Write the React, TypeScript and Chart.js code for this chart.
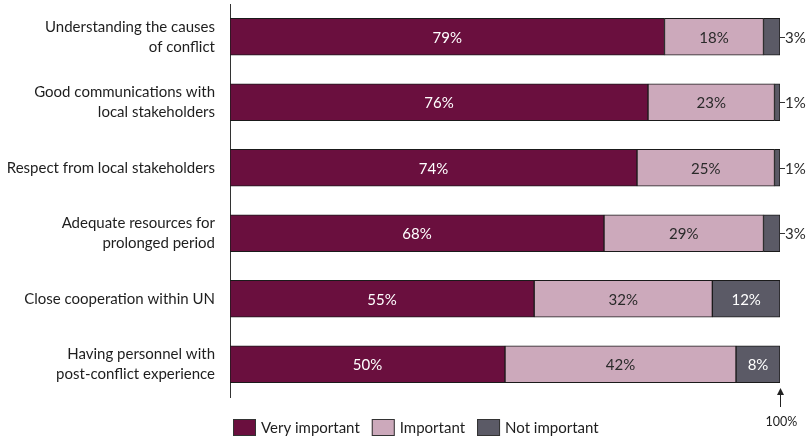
import React, { useEffect, useRef } from "react";
import { Chart, registerables } from "chart.js";

Chart.register(...registerables);

const categories: string[][] = [
  ["Understanding the causes", "of conflict"],
  ["Good communications with", "local stakeholders"],
  ["Respect from local stakeholders"],
  ["Adequate resources for", "prolonged period"],
  ["Close cooperation within UN"],
  ["Having personnel with", "post-conflict experience"],
];
const veryImportant = [79, 76, 74, 68, 55.3, 50];
const important = [18, 23, 25, 29, 32.4, 42];
const notImportant = [3, 1, 1, 3, 12.3, 8];

const seriesNames = ["Very important", "Important", "Not important"];
const seriesColors = ["#6A0F3E", "#CCA9BB", "#5B5A66"];
const labelColors = ["#ffffff", "#2a2a2a", "#ffffff"];
const FONT = "Lato, 'Open Sans', sans-serif";

const overlayPlugin = {
  id: "overlay",
  afterDraw(chart: any) {
    const ctx = chart.ctx as CanvasRenderingContext2D;
    const area = chart.chartArea;
    ctx.save();
    // value labels
    chart.data.datasets.forEach((ds: any, di: number) => {
      const meta = chart.getDatasetMeta(di);
      meta.data.forEach((el: any, i: number) => {
        const v = ds.data[i] as number;
        const { x, y, base } = el.getProps(["x", "y", "base"], true);
        const label = Math.round(v) + "%";
        ctx.font = `15px ${FONT}`;
        ctx.textBaseline = "middle";
        if (v < 5) {
          ctx.strokeStyle = "#333";
          ctx.lineWidth = 1;
          ctx.beginPath();
          ctx.moveTo(x, Math.round(y) + 0.5);
          ctx.lineTo(x + 5, Math.round(y) + 0.5);
          ctx.stroke();
          ctx.fillStyle = "#2a2a2a";
          ctx.textAlign = "left";
          ctx.fillText(label, x + 5, y + 1);
        } else {
          ctx.fillStyle = labelColors[di];
          ctx.textAlign = "center";
          ctx.fillText(label, (x + base) / 2, y + 1);
        }
      });
    });
    // 100% arrow
    const ax = Math.round(area.right) + 0.5;
    ctx.strokeStyle = "#222";
    ctx.fillStyle = "#222";
    ctx.lineWidth = 1;
    ctx.beginPath();
    ctx.moveTo(ax, 407);
    ctx.lineTo(ax, 393);
    ctx.stroke();
    ctx.beginPath();
    ctx.moveTo(ax, 388);
    ctx.lineTo(ax - 3.5, 395);
    ctx.lineTo(ax + 3.5, 395);
    ctx.closePath();
    ctx.fill();
    ctx.font = `12.5px ${FONT}`;
    ctx.textAlign = "center";
    ctx.textBaseline = "middle";
    ctx.fillStyle = "#222";
    ctx.fillText("100%", ax + 1, 422);
    // legend
    let lx = area.left + 3;
    const ly = 419;
    ctx.font = `15px ${FONT}`;
    ctx.textAlign = "left";
    seriesNames.forEach((name, i) => {
      ctx.fillStyle = seriesColors[i];
      ctx.fillRect(lx, ly, 23, 17);
      ctx.strokeStyle = "#333";
      ctx.strokeRect(lx + 0.5, ly + 0.5, 22, 16);
      ctx.fillStyle = "#1e1e1e";
      ctx.fillText(name, lx + 28, ly + 9.5);
      lx += 28 + ctx.measureText(name).width + 12;
    });
    ctx.restore();
  },
};

export default function App() {
  const ref = useRef<HTMLCanvasElement>(null);
  useEffect(() => {
    if (!ref.current) return;
    const series = [veryImportant, important, notImportant];
    const chart = new Chart(ref.current, {
      type: "bar",
      data: {
        labels: categories,
        datasets: series.map((d, i) => ({
          label: seriesNames[i],
          data: d,
          backgroundColor: seriesColors[i],
          borderColor: "#1a1a1a",
          borderWidth: 1,
          borderSkipped: false,
          barThickness: 37,
        })),
      },
      options: {
        indexAxis: "y",
        responsive: true,
        maintainAspectRatio: false,
        animation: false,
        layout: { padding: { left: 0, top: 4, right: 28, bottom: 44 } },
        plugins: {
          legend: { display: false },
          tooltip: { enabled: false },
        },
        scales: {
          x: { stacked: true, display: false, min: 0, max: 100 },
          y: {
            stacked: true,
            grid: { display: false, drawTicks: false },
            border: { display: true, color: "#333", width: 1 },
            ticks: {
              padding: 15,
              color: "#1e1e1e",
              font: { family: FONT, size: 15, lineHeight: 1.33 },
            },
            afterFit(scale: any) {
              scale.width = 230;
              scale.paddingTop = 0;
              scale.paddingBottom = 0;
            },
          },
        },
      },
      plugins: [overlayPlugin],
    } as any);
    return () => chart.destroy();
  }, []);
  return (
    <div style={{ position: "absolute", left: 0, top: 0, width: 808, height: 441 }}>
      <canvas ref={ref} />
    </div>
  );
}
